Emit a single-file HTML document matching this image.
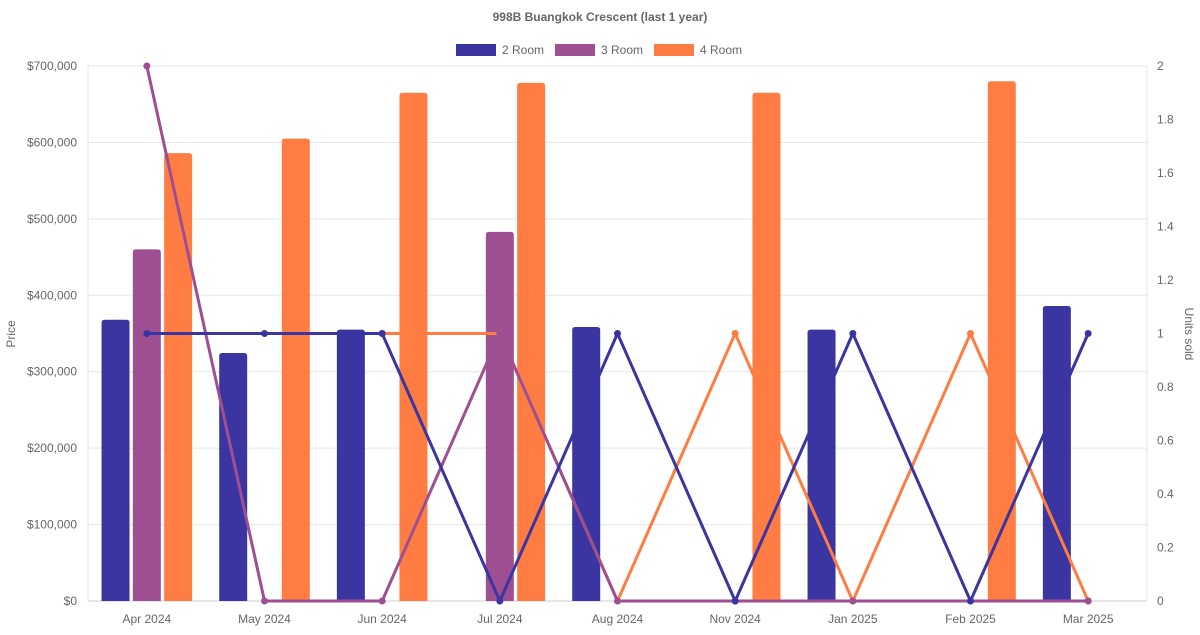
<!DOCTYPE html>
<html><head><meta charset="utf-8"><style>
body{margin:0;background:#fff;font-family:"Liberation Sans",sans-serif}
text{font-family:"Liberation Sans",sans-serif}
</style></head><body>
<svg id="chart" width="1200" height="630">
<text x="600" y="21" text-anchor="middle" font-size="12" font-weight="bold" fill="#666">998B Buangkok Crescent (last 1 year)</text>
<g>
<g><rect x="456" y="44" width="40" height="12" fill="#3a35a0"/><text x="502" y="54" font-size="12" fill="#666">2 Room</text></g>
<g><rect x="555" y="44" width="40" height="12" fill="#9e4f92"/><text x="601" y="54" font-size="12" fill="#666">3 Room</text></g>
<g><rect x="654" y="44" width="40" height="12" fill="#ff7c43"/><text x="700" y="54" font-size="12" fill="#666">4 Room</text></g>
</g>
<g id="grid"></g><g id="bars"></g><g id="lines"></g><g id="axes"></g>
<text transform="translate(15,334) rotate(-90)" text-anchor="middle" font-size="12" fill="#666">Price</text>
<text transform="translate(1185,334) rotate(90)" text-anchor="middle" font-size="12" fill="#666">Units sold</text>
</svg>
<script>
const categories=["Apr 2024","May 2024","Jun 2024","Jul 2024","Aug 2024","Nov 2024","Jan 2025","Feb 2025","Mar 2025"];
const price2=[368000,324500,355000,null,358500,null,355000,null,386000];
const price3=[460000,null,null,483000,null,null,null,null,null];
const price4=[586000,605000,665000,678000,null,665000,null,680000,null];
const units2=[1,1,1,0,1,0,1,0,1];
const units3=[2,0,0,1,0,0,0,0,0];
const units4=[null,null,1,1,0,1,0,1,0];
const priceTicks=[0,100000,200000,300000,400000,500000,600000,700000];
const unitTicks=[0,0.2,0.4,0.6,0.8,1,1.2,1.4,1.6,1.8,2];
const NS="http://www.w3.org/2000/svg";
const L=88,R=1147,T=66,B=601,step=(R-L)/categories.length;
const xC=i=>L+step*(i+0.5);
const yP=v=>B-(v/700000)*(B-T);
const yU=v=>B-(v/2)*(B-T);
function mk(tag,attrs,parent){const e=document.createElementNS(NS,tag);for(const k in attrs)e.setAttribute(k,attrs[k]);parent.appendChild(e);return e;}
const grid=document.getElementById('grid'),axes=document.getElementById('axes'),lines=document.getElementById('lines'),bars=document.getElementById('bars');
priceTicks.forEach(v=>{const y=yP(v);
const g=mk('line',{x1:L,x2:R,y1:y,y2:y,stroke:v===0?'#ccc':'#e5e5e5','stroke-width':1},grid);


const t=mk('text',{x:L-11,y:y+4,'text-anchor':'end','font-size':12,fill:'#666'},axes);
t.textContent='$'+v.toLocaleString('en-US');

});
unitTicks.forEach(v=>{const t=mk('text',{x:R+10,y:yU(v)+4,'font-size':12,fill:'#666'},axes);
t.textContent=String(+v.toFixed(1));

});
mk('line',{x1:L,x2:L,y1:T,y2:B,stroke:'#e5e5e5'},grid);
mk('line',{x1:R,x2:R,y1:T,y2:B,stroke:'#e5e5e5'},grid);
categories.forEach((c,i)=>{const t=mk('text',{x:xC(i),y:623,'text-anchor':'middle','font-size':12,fill:'#666'},axes);t.textContent=c;

});
function drawLine(data,color,name){let d='';let pen=false;
data.forEach((v,i)=>{if(v===null){pen=false;return;}d+=(pen?'L':'M')+xC(i)+','+yU(v)+' ';pen=true;});
const p=mk('path',{d:d,fill:'none',stroke:color,'stroke-width':3},lines);


data.forEach((v,i)=>{if(v===null)return;const c=mk('circle',{cx:xC(i),cy:yU(v),r:3.5,fill:color},lines);

});}
drawLine(units4,'#ff7c43','line-4-room');
drawLine(units3,'#9e4f92','line-3-room');
drawLine(units2,'#3a35a0','line-2-room');
const slot=31.3,bw=28;
function drawBars(data,k,color,name){data.forEach((v,i)=>{if(v===null)return;
const x=xC(i)+(k-1)*slot-bw/2,y=yP(v),r=3;
const p=mk('path',{d:`M${x},${B}V${y+r}Q${x},${y} ${x+r},${y}H${x+bw-r}Q${x+bw},${y} ${x+bw},${y+r}V${B}Z`,fill:color},bars);

});}
drawBars(price2,0,'#3a35a0','bar-2-room');
drawBars(price3,1,'#9e4f92','bar-3-room');
drawBars(price4,2,'#ff7c43','bar-4-room');
</script>
</body></html>
